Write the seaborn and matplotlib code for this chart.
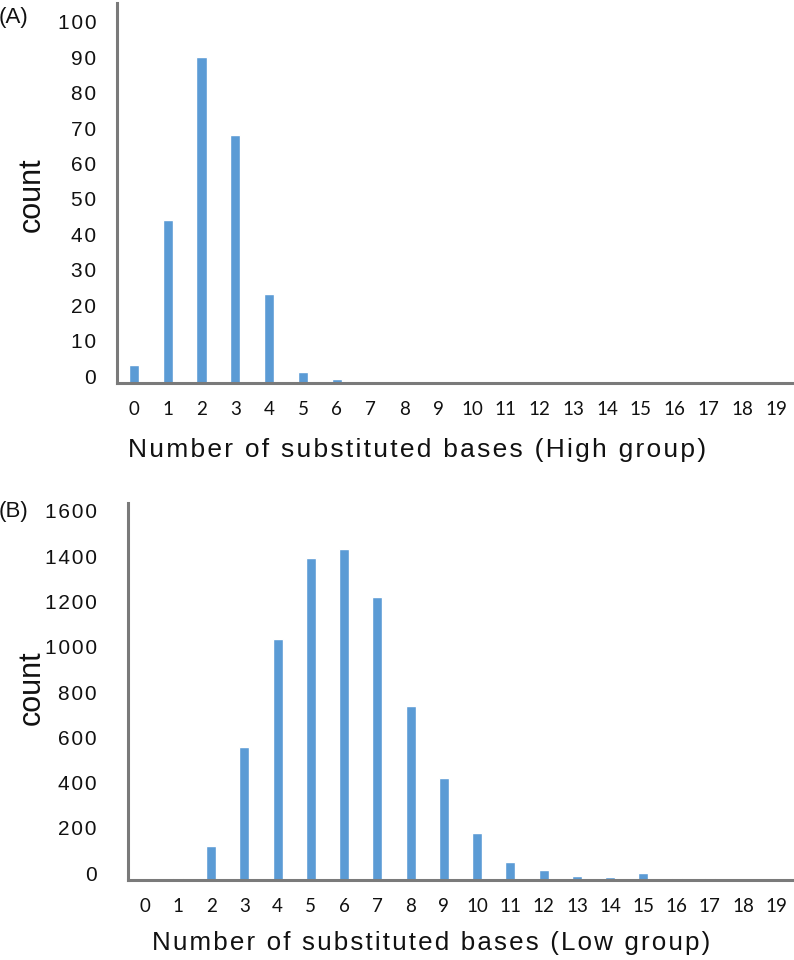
import numpy as np
import pandas as pd
import matplotlib
matplotlib.use('Agg')
import matplotlib.pyplot as plt
import matplotlib.transforms as mtransforms
import seaborn as sns

# data
bases = [str(i) for i in range(20)]
high_counts = [5, 46, 92, 70, 25, 3, 1, 0, 0, 0, 0, 0, 0, 0, 0, 0, 0, 0, 0, 0]
low_counts = [0, 10, 152, 589, 1065, 1421, 1461, 1252, 769, 452,
              206, 81, 43, 18, 15, 30, 10, 7, 0, 0]
high_yticks = [0, 10, 20, 30, 40, 50, 60, 70, 80, 90, 100]
low_yticks = [0, 200, 400, 600, 800, 1000, 1200, 1400, 1600]

sns.set_theme(style='white')
plt.rcParams['font.family'] = ['Liberation Sans', 'DejaVu Sans']

BAR = '#5b9bd5'
AXIS = '#7a7a7a'
INK = '#111111'
W, H = 794, 960

fig = plt.figure(figsize=(W / 100, H / 100), dpi=100)


def spaced(text):
    # the reference text is letter-spaced; mimic it with hair spaces
    return '\u200a'.join(text)


def panel(rect_px, counts, yticks, ymax, xlabel, xlab_pos, ylab_pos, ypad, xlab_size):
    left, top, right, bottom = rect_px
    ax = fig.add_axes([left / W, 1 - bottom / H, (right - left) / W, (bottom - top) / H])
    df = pd.DataFrame({'bases': bases, 'count': counts})
    sns.barplot(data=df, x='bases', y='count', order=bases, color=BAR,
                saturation=1, width=0.3, ax=ax)
    ax.set_xlim(-0.5, 19.5)
    ax.set_ylim(0, ymax)
    ax.set_yticks(yticks)
    ax.set_yticklabels([spaced(str(t)) for t in yticks])
    for s in ['top', 'right']:
        ax.spines[s].set_visible(False)
    for s in ['left', 'bottom']:
        ax.spines[s].set_color(AXIS)
        ax.spines[s].set_linewidth(2.2)
    ax.tick_params(axis='y', direction='in', length=7, width=1.5, color=AXIS,
                   pad=ypad, labelsize=15, labelcolor=INK)
    ax.tick_params(axis='x', length=0, pad=13, labelsize=13.5, labelcolor=INK)
    for lab in ax.get_xticklabels():
        lab.set_fontfamily(['Lato', 'DejaVu Sans'])
    off = mtransforms.ScaledTranslation(0, 5 / 72, fig.dpi_scale_trans)
    for lab in ax.get_yticklabels():
        lab.set_transform(lab.get_transform() + off)
    ax.set_xlabel(spaced(xlabel), fontsize=xlab_size, color=INK, va='center')
    ax.xaxis.set_label_coords(*xlab_pos)
    ax.set_ylabel('count', fontsize=22, color=INK, va='center')
    ax.yaxis.set_label_coords(*ylab_pos)
    ax.grid(False)
    return ax


panel((117, 3, 793, 383), high_counts, high_yticks, 107.3,
      'Number of substituted bases (High group)', (0.444, -0.176), (-0.126, 0.495), 15, 19)
panel((128, 503, 793, 880), low_counts, low_yticks, 1666,
      'Number of substituted bases (Low group)', (0.456, -0.167), (-0.144, 0.509), 22.5, 18.7)

fig.text(-0.002, 1 - 18 / H, '(A)', fontsize=16, va='center', ha='left', color=INK)
fig.text(-0.002, 1 - 512 / H, '(B)', fontsize=16, va='center', ha='left', color=INK)

fig.savefig('out.png', dpi=100)
